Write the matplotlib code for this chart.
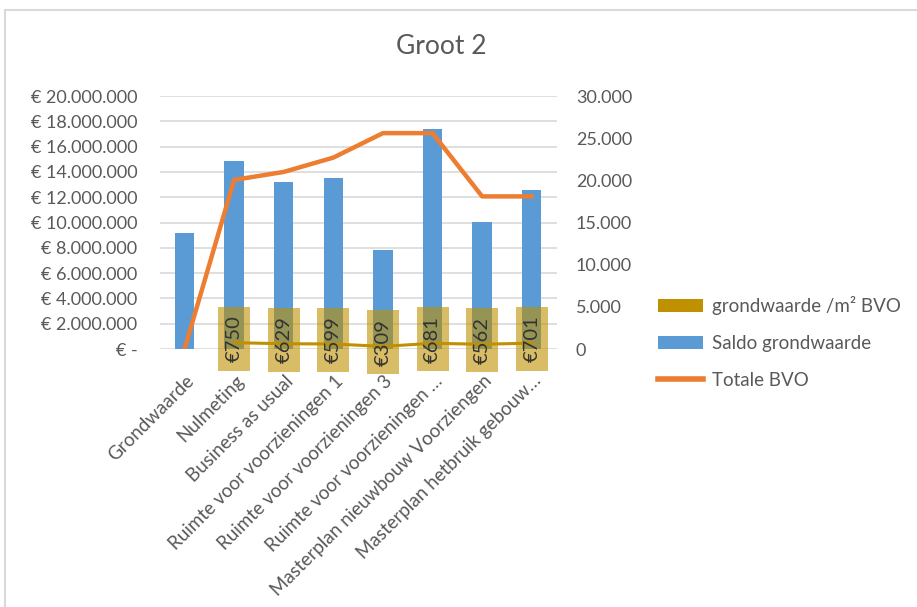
import matplotlib
matplotlib.use('Agg')
import matplotlib.pyplot as plt
from matplotlib.patches import Rectangle, Patch
from matplotlib.lines import Line2D
from matplotlib.transforms import ScaledTranslation
from matplotlib.ticker import FuncFormatter

plt.rcParams['font.family'] = ['Lato', 'DejaVu Sans']

categories = ['Grondwaarde', 'Nulmeting', 'Business as usual',
              'Ruimte voor voorzieningen 1', 'Ruimte voor voorzieningen 3',
              'Ruimte voor voorzieningen …', 'Masterplan nieuwbouw Voorziengen',
              'Masterplan hetbruik gebouw…']
saldo_grondwaarde = [9200000, 14900000, 13200000, 13550000, 7850000,
                     17400000, 10050000, 12600000]
totale_bvo = [0, 20050, 21000, 22700, 25600, 25600, 18100, 18100]
grondwaarde_m2 = [None, 750, 629, 599, 309, 681, 562, 701]

blue = '#5B9BD5'
orange = '#ED7D31'
gold = '#BF9000'
grey = '#595959'

fig = plt.figure(figsize=(9.17, 6.07), dpi=100)
ax = fig.add_axes([0.1742, 0.4250, 0.4327, 0.4168])
ax2 = ax.twinx()

x = list(range(len(categories)))
ax.bar(x, saldo_grondwaarde, width=0.39, color=blue, zorder=2)
ax.set_xlim(-0.5, len(categories) - 0.5)
ax.set_ylim(0, 20000000)
ax.set_yticks(range(0, 20000001, 2000000))
ax.grid(axis='y', color='#D9D9D9', lw=1.2)
ax.set_axisbelow(True)


def euro(v, pos):
    if v == 0:
        return '€ -'
    return '€ ' + f'{v:,.0f}'.replace(',', '.')


ax.yaxis.set_major_formatter(FuncFormatter(euro))
ax.tick_params(axis='y', length=0, labelsize=13, labelcolor=grey, pad=16)

ax.set_xticks(x)
ax.set_xticklabels(categories, rotation=45, ha='right', va='center',
                   rotation_mode='anchor', fontsize=13.5, color=grey)
ax.tick_params(axis='x', length=0, pad=21)
shift = ScaledTranslation(0.07, 0, fig.dpi_scale_trans)
for lbl in ax.get_xticklabels():
    lbl.set_transform(lbl.get_transform() + shift)

# lines on the secondary axis
xs = [i for i, v in zip(x, grondwaarde_m2) if v is not None]
gv = [v for v in grondwaarde_m2 if v is not None]
ax2.plot(x, totale_bvo, color=orange, lw=3.2, solid_joinstyle='round', zorder=3)
ax2.plot(xs, gv, color=gold, lw=2.2, zorder=4)
ax2.set_ylim(0, 30000)
ax2.set_yticks(range(0, 30001, 5000))
ax2.yaxis.set_major_formatter(FuncFormatter(lambda v, p: f'{v:,.0f}'.replace(',', '.')))
ax2.tick_params(axis='y', length=0, labelsize=13, labelcolor=grey, pad=14)

for a in (ax, ax2):
    for s in a.spines.values():
        s.set_visible(False)

# data labels for grondwaarde /m2 in translucent boxes
for i, v in zip(xs, gv):
    anchor = ScaledTranslation(i, v, ax2.transData)
    box = Rectangle((-0.16, -0.28), 0.32, 0.64, transform=fig.dpi_scale_trans + anchor,
                    facecolor=gold, alpha=0.6, lw=0, zorder=5, clip_on=False)
    ax2.add_patch(box)
    ax2.text(0, 0.04, f'€{v}', transform=fig.dpi_scale_trans + anchor,
             rotation=90, ha='center', va='center', fontsize=14.5,
             color='#333333', zorder=6, clip_on=False)

fig.text(441 / 917, 1 - 46 / 607, 'Groot 2', ha='center', va='center',
         fontsize=19, color=grey)

handles = [Patch(facecolor=gold), Patch(facecolor=blue),
           Line2D([], [], color=orange, lw=4)]
labels = ['grondwaarde /m² BVO', 'Saldo grondwaarde', 'Totale BVO']
fig.legend(handles, labels, loc='center left', bbox_to_anchor=(658 / 917, 1 - 342.5 / 607),
           frameon=False, fontsize=13.5, labelcolor=grey, handlelength=2.4,
           handleheight=0.65, handletextpad=0.5, labelspacing=1.05,
           borderpad=0, borderaxespad=0)

# chart frame
fig.add_artist(Rectangle((5 / 917, -0.1), 1.5, 1 - 10 / 607 + 0.1,
                         transform=fig.transFigure, fill=False,
                         edgecolor='#D9D9D9', lw=1.5))

fig.savefig('out.png', dpi=100)
